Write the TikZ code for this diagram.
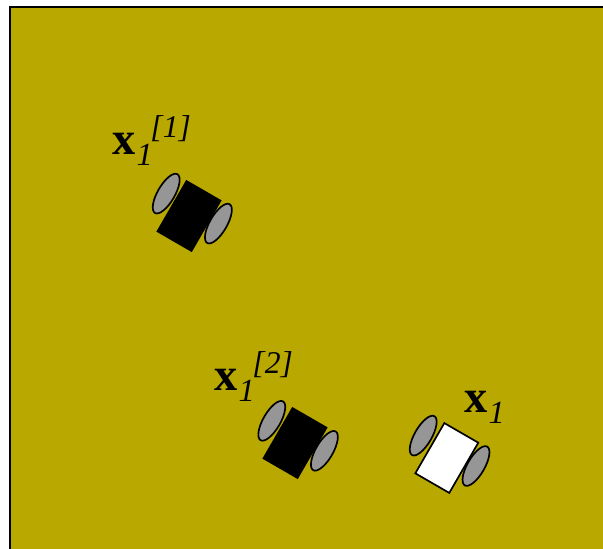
\documentclass[tikz,border=0pt]{standalone}
\usepackage{fontspec}
\setmainfont{Liberation Serif}
\usetikzlibrary{shapes.geometric}

\definecolor{floorcolor}{RGB}{184,168,0}
\definecolor{wheelcolor}{RGB}{150,150,150}
\newcommand{\statemain}{{\fontsize{33}{33}\selectfont\bfseries x}}
\newcommand{\statesub}{\raisebox{-0.29cm}{\fontsize{23}{23}\selectfont\itshape 1}}
\newcommand{\statesup}[1]{\raisebox{0.42cm}{\fontsize{22.5}{23}\selectfont\itshape [#1]}}

\begin{document}
\begin{tikzpicture}[
    body/.style={draw=black, line width=1.2pt, rotate=-30, minimum width=0.98cm, minimum height=1.45cm, inner sep=0pt},
    particle/.style={body, fill=black},
    robot/.style={body, fill=white},
    wheel/.style={draw=black, line width=1.2pt, ellipse, rotate=-30, fill=wheelcolor, minimum width=0.43cm, minimum height=1.12cm, inner sep=0pt},
    statelabel/.style={anchor=base west, inner sep=0pt}
  ]
    \useasboundingbox (0,0) rectangle (15.075,13.7);
    \path[fill=white] (0,0) rectangle (15.075,13.7);
    \draw[fill=floorcolor, line width=1.4pt] (0.26,-0.5) rectangle (15.6,13.52);

    % first particle
    \node[particle] (body1) at (4.725,8.3) {};
    \node[wheel] (wheel1l) at (4.155,8.86) {};
    \node[wheel] (wheel1r) at (5.46,8.11) {};
    \node[statelabel] (label1) at (2.8,9.85) {\statemain\hspace{0.03cm}\statesub\hspace{-0.06cm}\statesup{1}};

    % second particle
    \node[particle] (body2) at (7.375,2.625) {};
    \node[wheel] (wheel2l) at (6.795,3.18) {};
    \node[wheel] (wheel2r) at (8.11,2.43) {};
    \node[statelabel] (label2) at (5.35,3.95) {\statemain\hspace{0.03cm}\statesub\hspace{-0.06cm}\statesup{2}};

    % true pose
    \node[robot] (body3) at (11.17,2.25) {};
    \node[wheel] (wheel3l) at (10.58,2.81) {};
    \node[wheel] (wheel3r) at (11.9,2.05) {};
    \node[statelabel] (label3) at (11.6,3.4) {\statemain\hspace{0.03cm}\statesub};
  \end{tikzpicture}
\end{document}
